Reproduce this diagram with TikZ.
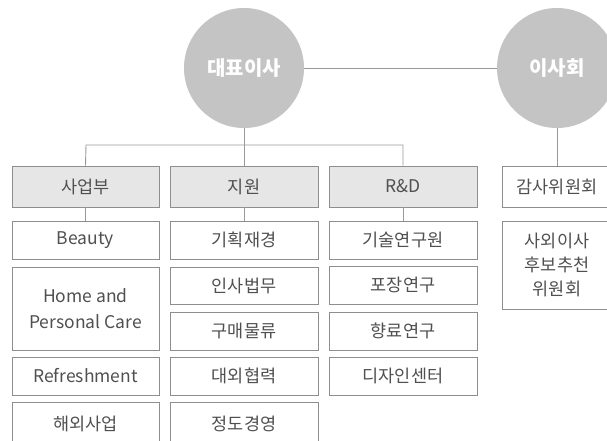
\documentclass[tikz,border=0pt]{standalone}
\usepackage{fontspec}
\setmainfont{Noto Sans CJK KR}
\begin{document}
\begin{tikzpicture}[x=1pt,y=-1pt,
  circ/.style={circle,fill=circfill,draw=none,minimum size=120pt,inner sep=0pt,text=white,font=\fontsize{20}{22}\selectfont\bfseries},
  box/.style={draw=boxline,line width=0.9pt,fill=white,inner sep=0pt,text=txt,font=\fontsize{17.5}{25.5}\selectfont,align=center},
  head/.style={box,fill=headfill},
  conn/.style={draw=lineclr,line width=0.9pt}]
\definecolor{circfill}{HTML}{C4C4C4}
\definecolor{boxline}{HTML}{8E8E8E}
\definecolor{headfill}{HTML}{E6E6E6}
\definecolor{lineclr}{HTML}{999999}
\definecolor{txt}{HTML}{505050}
\useasboundingbox (0,0) rectangle (607,440);
\clip (0,0) rectangle (607,440);
% circles
\node[circ] (ceo) at (244,68) {대표이사};
\node[circ] (board) at (557,68) {이사회};
% headers
\node[head,minimum width=147pt,minimum height=41pt] (biz) at (85.5,186.5) {사업부};
\node[head,minimum width=148pt,minimum height=41pt] (sup) at (244,186.5) {지원};
\node[head,minimum width=148pt,minimum height=41pt] (rnd) at (403,186.5) {R\&D};
\node[box,minimum width=110pt,minimum height=41pt] (audit) at (557,186.5) {감사위원회};
% column 1
\node[box,minimum width=147pt,minimum height=38pt] (beauty) at (85.5,240) {Beauty};
\node[box,minimum width=147pt,minimum height=83pt] (hpc) at (85.5,308.5) {Home and\\Personal Care};
\node[box,minimum width=147pt,minimum height=38pt] (refr) at (85.5,376) {Refreshment};
\node[box,minimum width=147pt,minimum height=44pt] (intl) at (85.5,424) {해외사업};
% column 2
\node[box,minimum width=148pt,minimum height=38pt] (plan) at (244,240) {기획재경};
\node[box,minimum width=148pt,minimum height=37pt] (hr) at (244,285.5) {인사법무};
\node[box,minimum width=148pt,minimum height=38pt] (buy) at (244,331) {구매물류};
\node[box,minimum width=148pt,minimum height=38pt] (ext) at (244,376) {대외협력};
\node[box,minimum width=148pt,minimum height=44pt] (eth) at (244,424) {정도경영};
% column 3
\node[box,minimum width=148pt,minimum height=38pt] (tech) at (403,240) {기술연구원};
\node[box,minimum width=148pt,minimum height=38pt] (pack) at (403,285) {포장연구};
\node[box,minimum width=148pt,minimum height=38pt] (frag) at (403,331) {향료연구};
\node[box,minimum width=148pt,minimum height=38pt] (design) at (403,376) {디자인센터};
% column 4
\node[box,minimum width=110pt,minimum height=88pt,font=\fontsize{17.5}{24}\selectfont] (nom) at (557,265) {사외이사\\후보추천\\위원회};
% connectors
\coordinate (hl) at (86,145);
\coordinate (hr2) at (403,145);
\draw[conn] (ceo) -- (board);
\draw[conn] (ceo.south) -- (sup.north);
\draw[conn] (biz.north) -- (hl) -- (hr2) -- (rnd.north);
\draw[conn] (board.south) -- (audit.north);
\draw[conn] (biz.south) -- (beauty.north);
\draw[conn] (sup.south) -- (plan.north);
\draw[conn] (rnd.south) -- (tech.north);
\end{tikzpicture}
\end{document}
